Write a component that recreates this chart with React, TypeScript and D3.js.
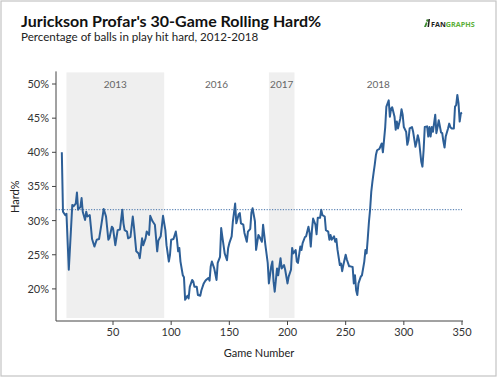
import React from "react";
import * as d3 from "d3";

const games = [6,7,9,10,12,14,15,16,18,19,20,22,23,24,26,27,28,30,31,32,34,36,38,40,42,44,46,47,49,50,52,54,56,58,59,60,62,63,65,67,68,70,72,73,75,76,78,79,81,82,84,86,88,89,91,93,95,96,98,99,100,102,104,105,106,107,108,110,111,112,114,115,116,118,119,120,122,123,125,126,128,129,130,132,133,134,135,137,139,140,142,143,144,146,148,149,150,152,153,155,156,158,159,160,162,163,165,166,168,169,170,172,173,175,176,178,179,180,181,183,184,186,187,188,189,191,192,194,195,197,198,200,201,203,204,205,207,208,209,211,212,213,215,216,218,219,220,221,222,224,225,226,228,229,230,232,233,235,236,237,238,240,241,242,243,245,246,247,248,250,251,253,254,256,257,258,259,260,261,263,264,266,267,268,269,270,271,272,273,274,275,276,277,279,281,282,284,285,287,288,289,290,292,293,294,295,297,298,299,300,302,303,304,305,307,308,310,311,312,313,315,316,317,318,320,321,322,323,324,325,327,328,329,330,332,333,334,335,336,338,339,340,341,343,344,345,346,347,348,349,350];
const hardPct = [40.0,31.3,30.8,31.0,22.8,29.1,32.3,32.1,32.5,34.1,31.6,32.0,33.3,31.3,30.1,31.3,30.6,30.8,29.1,27.3,26.2,27.2,27.3,29.4,31.7,30.6,27.2,27.5,29.1,28.9,26.4,28.6,28.7,31.6,29.6,28.6,28.4,27.4,27.6,30.6,29.1,25.5,25.2,24.5,27.4,26.4,27.4,28.4,27.9,30.7,29.9,29.4,25.5,27.1,27.7,30.7,28.6,26.4,24.0,25.0,27.2,27.3,28.4,27.2,25.5,26.0,24.0,22.0,21.7,18.4,19.0,18.6,20.3,21.3,21.1,20.3,20.3,19.1,19.0,19.8,20.8,21.1,21.3,21.6,21.2,23.3,24.0,23.0,21.3,23.8,24.7,28.9,27.6,25.2,24.2,26.0,26.7,27.7,29.8,32.5,29.6,30.9,31.1,29.6,29.4,28.2,26.9,28.4,28.8,31.2,31.8,29.9,25.7,27.9,27.6,26.9,29.4,27.9,26.4,23.8,20.8,23.3,24.0,21.1,19.6,23.0,22.0,24.5,23.0,23.5,22.8,20.8,21.8,22.8,26.0,25.2,25.7,24.0,23.8,26.2,25.7,26.7,27.6,27.7,29.1,28.2,26.2,28.6,30.3,29.4,28.0,30.4,30.4,31.6,30.8,30.6,28.6,28.4,27.2,27.9,27.2,27.7,26.9,27.3,25.7,23.5,23.7,22.6,23.5,25.0,24.3,23.3,23.3,23.2,20.8,22.0,19.8,19.1,20.8,21.8,22.0,24.0,25.7,25.2,27.4,29.8,31.6,34.2,35.7,37.0,38.2,39.6,40.3,40.5,41.3,40.0,43.7,46.7,47.6,45.2,46.4,46.6,45.2,43.3,44.5,43.5,45.0,46.3,45.5,43.7,43.0,41.1,41.8,43.5,43.7,43.0,40.8,41.5,42.5,41.8,38.6,37.9,40.3,43.7,43.8,42.3,43.7,42.3,43.7,43.0,45.5,42.8,43.7,44.7,42.9,42.8,41.6,40.7,42.3,43.5,44.2,43.7,43.5,43.5,46.7,46.9,48.4,47.2,44.5,45.7,45.8];

const careerAvg = 31.6;

const seasonLabels = ["2013", "2016", "2017", "2018"];
const seasonStart = [10, 94, 184, 206];
const seasonEnd = [94, 184, 206, 350];
const seasonShaded = [true, false, true, false];

const xTicks = [50, 100, 150, 200, 250, 300, 350];
const yTicks = [20, 25, 30, 35, 40, 45, 50];

const W = 497;
const H = 377;
const FONT = "Lato, 'Open Sans', sans-serif";
const BLUE = "#2d5f97";

export default function App() {
  const x = d3.scaleLinear().domain([1, 350]).range([56, 462]);
  const y = d3.scaleLinear().domain([15.3, 51.7]).range([321, 72.4]);
  const plotTop = 72.4;
  const shadeBottom = 318;
  const axisY = 321;
  const axisX = 56;

  const pts = games.map((g, i) => [g, hardPct[i]] as [number, number]);
  const line = d3
    .line<[number, number]>()
    .x((d) => x(d[0]))
    .y((d) => y(d[1]))(pts);

  return (
    <div style={{ position: "fixed", left: 0, top: 0 }}>
      <svg width={W} height={H} style={{ display: "block", background: "#fff" }} fontFamily={FONT}>
        <rect x={1} y={1} width={W - 2} height={H - 2} fill="#fff" stroke="#c4c4c4" strokeWidth={1.2} />
        {seasonLabels.map((s, i) => (
          <g key={s}>
            {seasonShaded[i] && (
              <rect
                x={x(seasonStart[i])}
                y={plotTop}
                width={x(seasonEnd[i]) - x(seasonStart[i])}
                height={shadeBottom - plotTop}
                fill="#efefef"
              />
            )}
            <text
              x={x((seasonStart[i] + seasonEnd[i]) / 2)}
              y={y(50) + 3.5}
              textAnchor="middle"
              fontSize={10}
              fill="#666"
            >
              {s}
            </text>
          </g>
        ))}
        <line
          x1={axisX}
          x2={x(350)}
          y1={y(careerAvg)}
          y2={y(careerAvg)}
          stroke="#3f6fa8"
          strokeWidth={1}
          strokeDasharray="1.2,1.5"
        />
        <path d={line ?? ""} fill="none" stroke={BLUE} strokeWidth={2} strokeLinejoin="round" />
        {/* y axis */}
        <line x1={axisX} x2={axisX} y1={plotTop - 1} y2={axisY} stroke="#444" strokeWidth={1} />
        {yTicks.map((t) => (
          <g key={t}>
            <line x1={axisX - 4} x2={axisX} y1={y(t)} y2={y(t)} stroke="#444" />
            <text x={axisX - 7} y={y(t) + 4} textAnchor="end" fontSize={11} fill="#333">
              {t}%
            </text>
          </g>
        ))}
        {/* x axis */}
        <line x1={axisX} x2={x(350) + 1} y1={axisY} y2={axisY} stroke="#444" strokeWidth={1} />
        {xTicks.map((t) => (
          <g key={t}>
            <line x1={x(t)} x2={x(t)} y1={axisY} y2={axisY + 4} stroke="#444" />
            <text x={x(t)} y={axisY + 15} textAnchor="middle" fontSize={11} fill="#333">
              {t}
            </text>
          </g>
        ))}
        <text
          transform={`translate(19, ${(plotTop + axisY) / 2}) rotate(-90)`}
          textAnchor="middle"
          fontSize={11}
          fill="#222"
        >
          Hard%
        </text>
        <text x={(axisX + x(350)) / 2} y={357} textAnchor="middle" fontSize={11} fill="#222">
          Game Number
        </text>
        <text x={21} y={27} fontSize={16} fontWeight="bold" fill="#111">
          Jurickson Profar's 30-Game Rolling Hard%
        </text>
        <text x={21} y={41} fontSize={11.6} fill="#222">
          Percentage of balls in play hit hard, 2012-2018
        </text>
        {/* FanGraphs logo */}
        <g transform="translate(424, 19)">
          <path d="M0,8 L2,3 L3.5,4 L2,8 Z" fill="#3c8a2e" />
          <circle cx={3.5} cy={1.5} r={1.3} fill="#3c8a2e" />
          <path d="M3.5,8 L4.5,0 L6,0 L5,8 Z" fill="#222" />
          <text x={7} y={7.8} fontSize={7.2} fontWeight="bold" fill="#222" fontFamily="'Open Sans', sans-serif">
            FAN<tspan fill="#5cb039">GRAPHS</tspan>
          </text>
        </g>
      </svg>
    </div>
  );
}
